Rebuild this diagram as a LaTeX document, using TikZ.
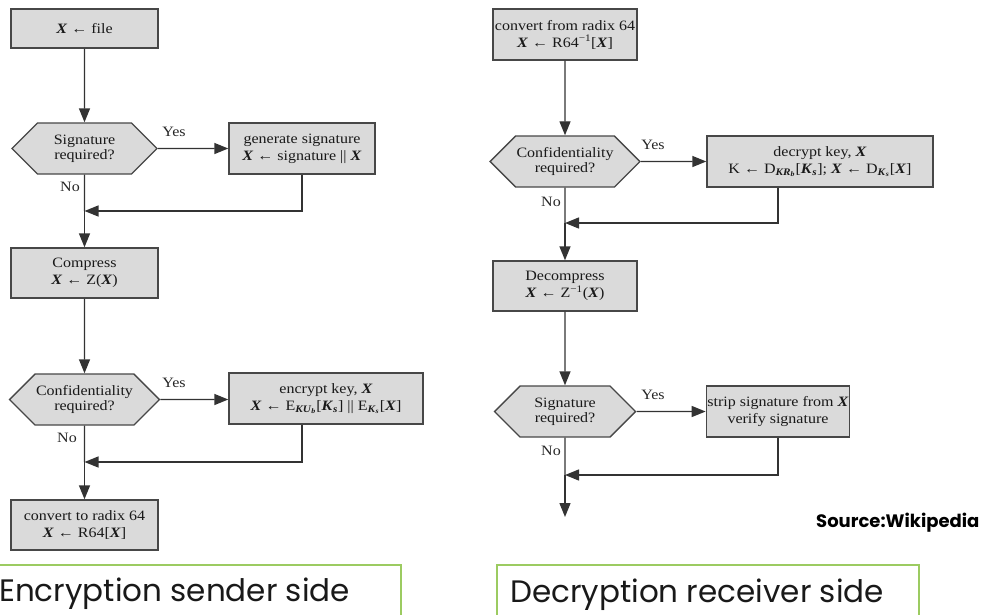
\documentclass[tikz,border=0pt]{standalone}
\usepackage{fontspec}
\setmainfont{Liberation Serif}
\newfontfamily\flowfont[FakeStretch=1.12]{Liberation Serif}
\newfontfamily\capfont{Poppins}
\usetikzlibrary{arrows.meta,shapes.symbols}

\newcommand{\bfit}[1]{\textbf{\textit{#1}}}
\definecolor{boxgray}{HTML}{DADADA}
\definecolor{edgegray}{HTML}{474747}
\definecolor{capgreen}{HTML}{9CCB61}

\tikzset{
  procbox/.style={draw=edgegray, fill=boxgray, line width=1.4pt, align=center,
    inner sep=1pt, text=black!90, font=\flowfont\fontsize{14.3}{17}\selectfont},
  decision/.style={procbox, shape=signal, signal to=west and east,
    signal pointer angle=90, font=\flowfont\fontsize{14.3}{15}\selectfont},
  flow/.style={draw=black!80, line width=1.4pt, -{Triangle[length=14pt,width=11pt]}},
  link/.style={draw=black!80, line width=1.4pt},
  answer/.style={text=black!85, font=\flowfont\fontsize{14.3}{15}\selectfont},
  capline/.style={draw=capgreen, line width=1.5pt},
}

\begin{document}
\begin{tikzpicture}[x=1pt,y=-1pt]
	\useasboundingbox (0,0) rectangle (994,614);
	\clip (0,0) rectangle (994,614);

	% Sender side
	\node[procbox, minimum width=147pt, minimum height=39pt] (file) at (84.5,28.5) {\bfit{X} ← file};
	\node[decision, minimum width=145pt, minimum height=51pt] (sig1) at (84.5,148.5) {Signature\\required?};
	\node[procbox, minimum width=146pt, minimum height=51pt] (gen) at (302,148.5) {generate signature\\\bfit{X} ← signature || \bfit{X}};
	\node[procbox, minimum width=147pt, minimum height=50pt] (compress) at (84.5,273) {Compress\\\bfit{X} ← Z(\bfit{X})};
	\node[decision, minimum width=145pt, minimum height=51pt] (conf1) at (84.5,399.5) {Confidentiality\\required?};
	\node[procbox, minimum width=194pt, minimum height=51pt] (enc) at (326,398.5) {encrypt key, \bfit{X}\\\bfit{X} ← E\textsubscript{\bfit{KU}\textsubscript{\bfit{b}}}[\bfit{K}\textsubscript{\bfit{s}}] || E\textsubscript{\bfit{K}\textsubscript{\bfit{s}}}[\bfit{X}]};
	\node[procbox, minimum width=147pt, minimum height=50pt] (radix) at (84.5,525) {convert to radix 64\\\bfit{X} ← R64[\bfit{X}]};
	\coordinate (m1) at (84.5,211);
	\coordinate (m2) at (84.5,462);

	\draw[flow] (file) -- (sig1);
	\draw[flow] (sig1) -- (gen);
	\draw[link] (sig1) -- (m1);
	\draw[flow] (gen.south) |- (m1);
	\draw[flow] (m1) -- (compress);
	\draw[flow] (compress) -- (conf1);
	\draw[flow] (conf1) -- (enc.west |- conf1);
	\draw[link] (conf1) -- (m2);
	\draw[flow] (enc.south -| gen.south) |- (m2);
	\draw[flow] (m2) -- (radix);

	\node[answer] (yes1) at (174,132) {Yes};
	\node[answer] (no1) at (70,187) {No};
	\node[answer] (yes2) at (174,383) {Yes};
	\node[answer] (no2) at (67,438) {No};

	% Receiver side
	\node[procbox, minimum width=144pt, minimum height=51pt] (from64) at (565,34.5) {convert from radix 64\\\bfit{X} ← R64\textsuperscript{−1}[\bfit{X}]};
	\node[decision, minimum width=141pt, minimum height=51pt] (conf2) at (565,161.5) {Confidentiality\\required?};
	\node[procbox, minimum width=226pt, minimum height=51pt] (dec) at (820,161.5) {decrypt key, \bfit{X}\\K ← D\textsubscript{\bfit{KR}\textsubscript{\bfit{b}}}[\bfit{K}\textsubscript{\bfit{s}}]; \bfit{X} ← D\textsubscript{\bfit{K}\textsubscript{\bfit{s}}}[\bfit{X}]};
	\node[procbox, minimum width=144pt, minimum height=50pt] (decomp) at (565,286) {Decompress\\\bfit{X} ← Z\textsuperscript{−1}(\bfit{X})};
	\node[decision, minimum width=141pt, minimum height=51pt] (sig2) at (565,411.5) {Signature\\required?};
	\node[procbox, minimum width=142pt, minimum height=51pt] (strip) at (778,411.5) {strip signature from \bfit{X}\\verify signature};
	\coordinate (m3) at (565,223);
	\coordinate (m4) at (565,475);
	\coordinate (out) at (565,517);

	\draw[flow] (from64) -- (conf2);
	\draw[flow] (conf2) -- (conf2 -| dec.west);
	\draw[link] (conf2) -- (m3);
	\draw[flow] (dec.south -| strip.south) |- (m3);
	\draw[flow] (m3) -- (decomp);
	\draw[flow] (decomp) -- (sig2);
	\draw[flow] (sig2) -- (strip);
	\draw[link] (sig2) -- (m4);
	\draw[flow] (strip.south) |- (m4);
	\draw[flow] (m4) -- (out);

	\node[answer] (yes3) at (653,145) {Yes};
	\node[answer] (no3) at (551,202) {No};
	\node[answer] (yes4) at (653,395) {Yes};
	\node[answer] (no4) at (551,451) {No};

	% Source and captions
	\node[anchor=base west, inner sep=0pt, font=\capfont\bfseries\fontsize{18}{20}\selectfont] (src) at (816,527) {Source:Wikipedia};
	\draw[capline] (-5,565) rectangle (401,640);
	\draw[capline] (497,565) rectangle (919,640);
	\node[anchor=base west, inner sep=0pt, text=black!90, font=\capfont\fontsize{31}{36}\selectfont] (enccap) at (-1,601) {Encryption sender side};
	\node[anchor=base west, inner sep=0pt, text=black!90, font=\capfont\fontsize{31}{36}\selectfont] (deccap) at (510,602) {Decryption receiver side};
\end{tikzpicture}
\end{document}
